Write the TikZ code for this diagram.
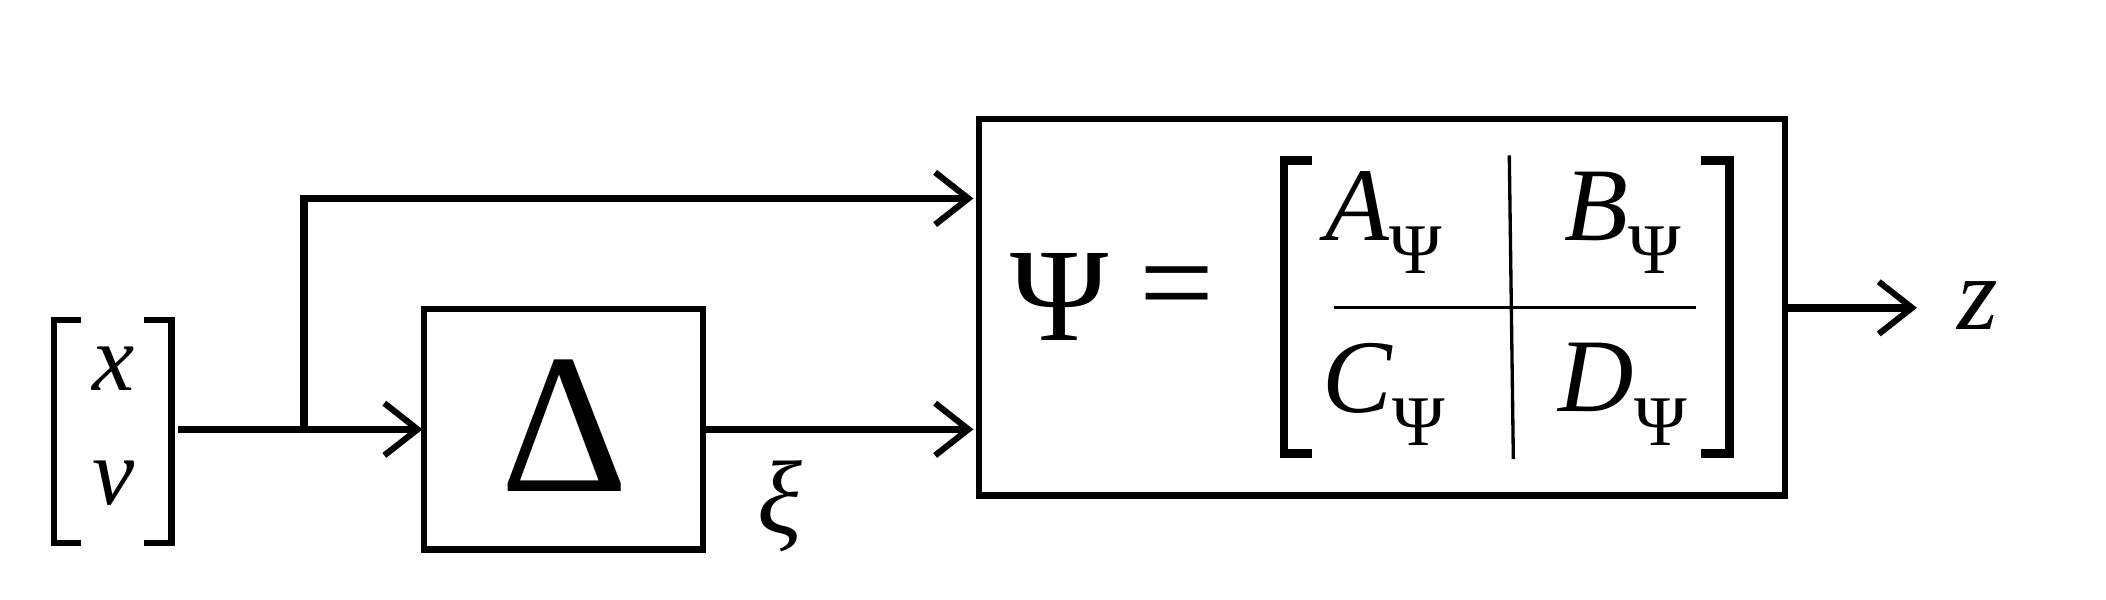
\documentclass[tikz,border=0pt]{standalone}
\usepackage{fontspec}
\setmainfont{Liberation Serif}
\usetikzlibrary{arrows.meta}
\begin{document}
\begin{tikzpicture}[x=0.01cm,y=-0.01cm,
  wire/.style={line width=1.6pt,-{Straight Barb[length=7pt,width=11pt,line width=1.3pt]}},
  blk/.style={line width=1.3pt},
  brk/.style={line width=1.3pt},
  lbl/.style={inner sep=0pt}]
\useasboundingbox (0,0) rectangle (1560,444);
% input vector
\draw[brk] (60,237) -- (40,237) -- (40,402) -- (60,402);
\draw[brk] (107,237) -- (127,237) -- (127,402) -- (107,402);
\node[lbl,font=\fontsize{20}{20}\selectfont\itshape] (x) at (84,273) {x};
\node[lbl,font=\fontsize{20}{20}\selectfont\itshape] (v) at (84,358) {v};
\coordinate (in) at (132,318);
\coordinate (br) at (225,318);
% Delta
\draw[blk] (314,229) rectangle (521,407);
\node[lbl,font=\fontsize{42}{42}\selectfont] (delta) at (418,315) {Δ};
\coordinate (Din) at (313,318);
\coordinate (Dout) at (521,318);
% Psi box
\draw[blk] (725,88) rectangle (1322,367);
\coordinate (Pin1) at (721,147);
\coordinate (Pin2) at (721,318);
\coordinate (Pout) at (1322,228);
\coordinate (zend) at (1420,228);
\draw[wire] (in) -- (Din);
\draw[wire] (br) |- (Pin1);
\draw[wire] (Dout) -- (Pin2);
\draw[wire] (Pout) -- (zend);
\node[lbl,font=\fontsize{22}{22}\selectfont\itshape] (xi) at (578,375) {ξ};
\node[lbl,font=\fontsize{22}{22}\selectfont\itshape] (z) at (1465,226) {z};
% inside
\node[lbl,font=\fontsize{28}{28}\selectfont] (psi) at (785,220) {Ψ};
\node[lbl,font=\fontsize{28}{28}\selectfont] (eq) at (872,220) {=};
\draw[brk,line width=1.8pt] (972,119) -- (951,119) -- (951,336) -- (972,336);
\draw[brk,line width=1.8pt] (1260,119) -- (1281,119) -- (1281,336) -- (1260,336);
\draw[line width=0.7pt] (1118,115) -- (1121,340);
\draw[line width=0.7pt] (988,228) -- (1256,228);
\tikzset{ent/.style={lbl,font=\fontsize{22}{22}\selectfont}}
\newcommand{\sbp}{\raisebox{-7pt}{\fontsize{15}{15}\selectfont Ψ}}
\node[ent] (A) at (1025,165) {\textit{A}\sbp};
\node[ent] (B) at (1202,165) {\textit{B}\sbp};
\node[ent] (C) at (1025,292) {\textit{C}\sbp};
\node[ent] (Dd) at (1202,292) {\textit{D}\sbp};
\end{tikzpicture}
\end{document}
